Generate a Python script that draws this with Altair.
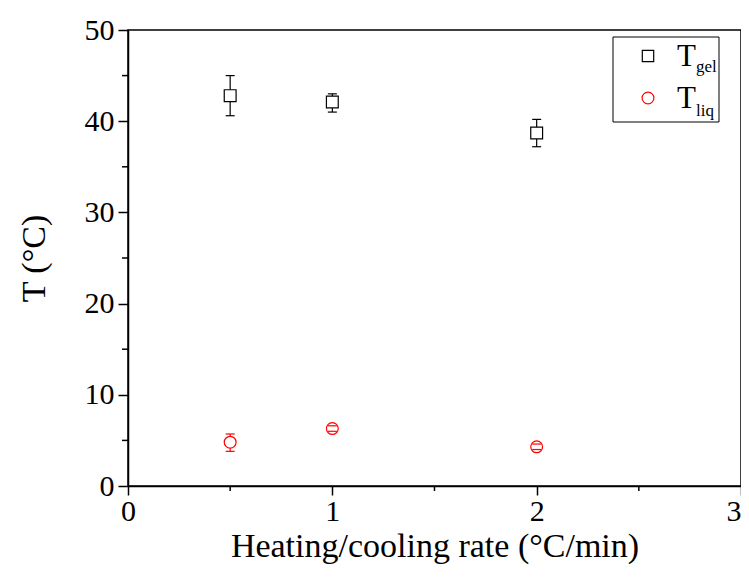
import altair as alt
import pandas as pd

# ---- data ----
rates = [0.5, 1.0, 2.0]
t_gel = [42.8, 42.1, 38.7]
t_gel_lo = [40.6, 41.0, 37.2]
t_gel_hi = [45.0, 43.0, 40.2]
t_liq = [4.8, 6.3, 4.3]
t_liq_lo = [3.8, 6.0, 4.0]
t_liq_hi = [5.7, 6.6, 4.6]
series = ["gel", "liq"]
series_colors = ["black", "#ff0000"]
series_shapes = ["square", "circle"]
x_ticks = [0, 1, 2, 3]
y_ticks = [0, 10, 20, 30, 40, 50]
x_minor = [0.5, 1.5, 2.5]
y_minor = [5, 15, 25, 35, 45]

FONT = "Liberation Serif"

df = pd.DataFrame({
    "rate": rates * 2,
    "T": t_gel + t_liq,
    "lo": t_gel_lo + t_liq_lo,
    "hi": t_gel_hi + t_liq_hi,
    "series": [series[0]] * 3 + [series[1]] * 3,
})

xs = alt.Scale(domain=[0, 3], nice=False, zero=False)
ys = alt.Scale(domain=[0, 50], nice=False, zero=False)
col = alt.Scale(domain=series, range=series_colors)
shp = alt.Scale(domain=series, range=series_shapes)

x_axis = alt.Axis(values=x_ticks, format="d", grid=False, tickSize=9, tickWidth=1.5,
                  domainWidth=1.5, domainColor="black", tickColor="black",
                  labelFont=FONT, labelFontSize=30, labelColor="black", labelPadding=1,
                  labelAlign={"condition": {"test": "datum.value >= 3", "value": "right"},
                              "value": "center"},
                  title="Heating/cooling rate (°C/min)", titleFont=FONT, titleFontSize=34,
                  titleFontWeight="normal", titleColor="black", titleY=70,
                  titleBaseline="alphabetic")
y_axis = alt.Axis(values=y_ticks, format="d", grid=False, tickSize=10, tickWidth=1.5,
                  domainWidth=1.5, domainColor="black", tickColor="black",
                  labelFont=FONT, labelFontSize=30, labelColor="black", labelPadding=4,
                  title="T (°C)", titleFont=FONT, titleFontSize=34,
                  titleFontWeight="normal", titleColor="black", titleX=-84, titleY=228,
                  titleBaseline="alphabetic")

base = alt.Chart(df)

bars = base.mark_rule(strokeWidth=1.2).encode(
    x=alt.X("rate:Q", scale=xs, axis=x_axis),
    y=alt.Y("lo:Q", scale=ys, axis=y_axis),
    y2="hi:Q",
    color=alt.Color("series:N", scale=col, legend=None),
)

points = base.mark_point(filled=False, fill="white", strokeWidth=1.2, size=140, opacity=1).encode(
    x=alt.X("rate:Q", scale=xs),
    y=alt.Y("T:Q", scale=ys),
    stroke=alt.Stroke("series:N", scale=col, legend=None),
    shape=alt.Shape("series:N", scale=shp, legend=None),
)

cap_hi = base.mark_tick(orient="horizontal", size=9, thickness=1.2, opacity=1).encode(
    x=alt.X("rate:Q", scale=xs),
    y=alt.Y("hi:Q", scale=ys),
    color=alt.Color("series:N", scale=col, legend=None),
)
cap_lo = base.mark_tick(orient="horizontal", size=9, thickness=1.2, opacity=1).encode(
    x=alt.X("rate:Q", scale=xs),
    y=alt.Y("lo:Q", scale=ys),
    color=alt.Color("series:N", scale=col, legend=None),
)

# minor ticks
ymin_df = pd.DataFrame({"v": y_minor})
xmin_df = pd.DataFrame({"v": x_minor})
y_minor_ticks = alt.Chart(ymin_df).mark_rule(color="black", strokeWidth=1.5).encode(
    y=alt.Y("v:Q", scale=ys), x=alt.value(-6), x2=alt.value(0))
x_minor_ticks = alt.Chart(xmin_df).mark_rule(color="black", strokeWidth=1.5).encode(
    x=alt.X("v:Q", scale=xs), y=alt.value(456), y2=alt.value(461))

# manual legend
one = alt.Data(values=[{"k": 0}])
leg_box = alt.Chart(one).mark_rect(fill="white", stroke="black", strokeWidth=1).encode(
    x=alt.value(485), x2=alt.value(591), y=alt.value(7), y2=alt.value(92))
leg_sq = alt.Chart(one).mark_point(shape=series_shapes[0], filled=False, fill="white",
                                   stroke=series_colors[0], strokeWidth=1.2, size=130,
                                   opacity=1).encode(x=alt.value(520), y=alt.value(26))
leg_ci = alt.Chart(one).mark_point(shape=series_shapes[1], filled=False, fill="white",
                                   stroke=series_colors[1], strokeWidth=1.2, size=140,
                                   opacity=1).encode(x=alt.value(520), y=alt.value(68))
leg_T1 = alt.Chart(one).mark_text(text="T", font=FONT, fontSize=31, align="left",
                                  baseline="alphabetic", color="black").encode(
    x=alt.value(549), y=alt.value(36))
leg_s1 = alt.Chart(one).mark_text(text=series[0], font=FONT, fontSize=17, align="left",
                                  baseline="alphabetic", color="black").encode(
    x=alt.value(568), y=alt.value(42))
leg_T2 = alt.Chart(one).mark_text(text="T", font=FONT, fontSize=31, align="left",
                                  baseline="alphabetic", color="black").encode(
    x=alt.value(549), y=alt.value(78))
leg_s2 = alt.Chart(one).mark_text(text=series[1], font=FONT, fontSize=17, align="left",
                                  baseline="alphabetic", color="black").encode(
    x=alt.value(568), y=alt.value(86))

chart = alt.layer(
    bars, points, cap_hi, cap_lo, y_minor_ticks, x_minor_ticks,
    leg_box, leg_sq, leg_ci, leg_T1, leg_s1, leg_T2, leg_s2,
).resolve_scale(color="shared").properties(
    width=613, height=456,
    autosize=alt.AutoSizeParams(type="none"),
    padding={"left": 120, "top": 22, "right": 0, "bottom": 78},
    background="white",
).configure_view(stroke="black", strokeWidth=1.5)

chart.save("out.html", embed_options={"renderer": "svg", "actions": False})
